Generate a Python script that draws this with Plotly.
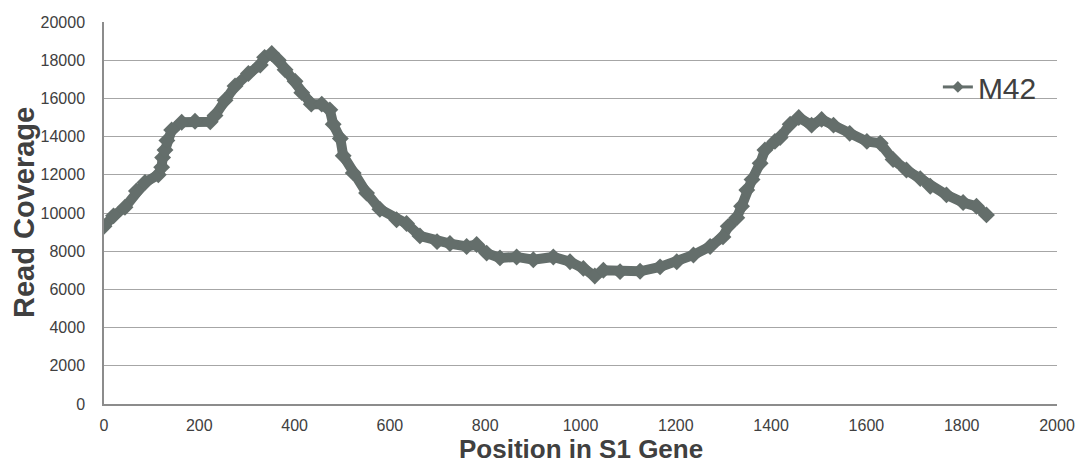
import plotly.graph_objects as go

position = [0, 20, 44, 68, 86, 114, 121, 123, 128, 132, 142, 163, 191, 223, 233, 254, 275, 303, 328, 337,
            352, 366, 380, 401, 415, 435, 457, 474, 481, 496, 502, 523, 551, 579, 614, 635, 663, 699, 726, 761,
            782, 803, 831, 866, 901, 943, 978, 1006, 1030, 1048, 1083, 1125, 1167, 1202, 1237, 1272, 1299, 1310,
            1328, 1338, 1349, 1360, 1377, 1387, 1408, 1419, 1440, 1458, 1485, 1506, 1531, 1565, 1601, 1629, 1656,
            1684, 1713, 1734, 1768, 1803, 1831, 1852]
coverage = [9300, 9850, 10300, 11150, 11600, 12000, 12400, 12900, 13300, 13800, 14350, 14750, 14800, 14780, 15100,
            15900, 16650, 17300, 17750, 18150, 18350, 18000, 17500, 16900, 16300, 15700, 15700, 15400, 14650, 13900,
            13000, 12100, 11050, 10200, 9650, 9450, 8800, 8500, 8400, 8250, 8350, 7900, 7650, 7700, 7550, 7700,
            7450, 7100, 6700, 7000, 6930, 6950, 7180, 7450, 7800, 8250, 8750, 9300, 9750, 10350, 11200, 11750,
            12600, 13300, 13750, 13950, 14650, 15000, 14600, 14900, 14600, 14170, 13750, 13650, 12800, 12250,
            11800, 11400, 10950, 10550, 10350, 9900]
series_name = "M42"
x_title = "Position in S1 Gene"
y_title = "Read Coverage"

color = "#646e6b"
font = "Liberation Sans, Arial, sans-serif"

fig = go.Figure()
fig.add_trace(go.Scatter(
    x=position, y=coverage, mode="lines+markers", showlegend=False,
    line=dict(color=color, width=10),
    marker=dict(symbol="diamond", size=13, color=color),
))
fig.add_trace(go.Scatter(
    x=[None], y=[None], mode="lines+markers", name=series_name,
    line=dict(color=color, width=3),
    marker=dict(symbol="diamond", size=9, color=color),
))

L, R, T, B = 104, 19, 22, 60
W, H = 1076, 464
pw, ph = W - L - R, H - T - B

fig.update_layout(
    width=W, height=H,
    margin=dict(l=L, r=R, t=T, b=B),
    paper_bgcolor="white", plot_bgcolor="white",
    font=dict(family=font, color="#404040", size=16),
    legend=dict(x=0.875, y=0.83, xanchor="left", yanchor="middle",
                font=dict(size=30, color="#404040"), bgcolor="rgba(0,0,0,0)",
                itemwidth=30, tracegroupgap=0),
    xaxis=dict(
        range=[0, 2000], tickvals=list(range(0, 2001, 200)),
        showgrid=False, zeroline=False, automargin=False,
        showline=True, linecolor="#8c8c8c", linewidth=1.5,
        ticks="", ticklabelstandoff=6, tickfont=dict(size=16, color="#404040"),
    ),
    yaxis=dict(
        range=[0, 20000], tickvals=list(range(0, 20001, 2000)), tickformat="d",
        showgrid=True, gridcolor="#a6a6a6", gridwidth=1.2, zeroline=False, automargin=False,
        showline=True, linecolor="#8c8c8c", linewidth=1.5,
        ticks="", ticklabelstandoff=14, tickfont=dict(size=16, color="#404040"),
    ),
    annotations=[
        dict(text="<b>%s</b>" % x_title, xref="paper", yref="paper",
             x=0.5, y=-(449 - (H - B)) / ph, xanchor="center", yanchor="middle",
             showarrow=False, font=dict(size=26, color="#404040")),
        dict(text="<b>%s</b>" % y_title, xref="paper", yref="paper",
             x=-(L - 24) / pw, y=0.5, xanchor="center", yanchor="middle", textangle=-90,
             showarrow=False, font=dict(size=29, color="#404040")),
    ],
)

fig.write_html("out.html")
